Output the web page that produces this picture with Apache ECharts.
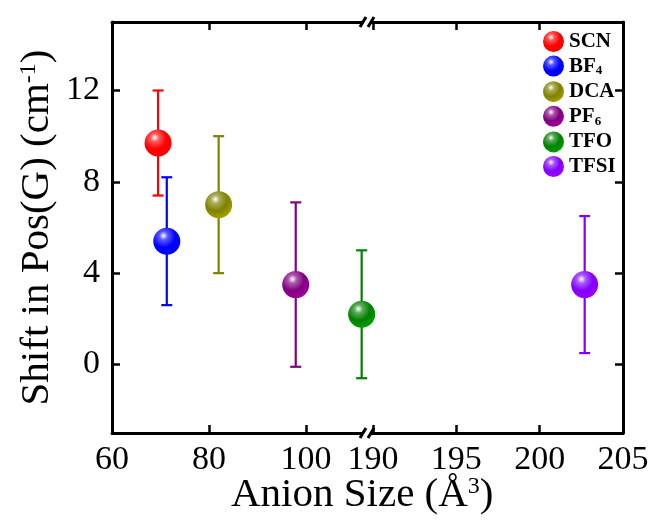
<!DOCTYPE html>
<html><head><meta charset="utf-8">
<script src="https://cdn.jsdelivr.net/npm/echarts@6/dist/echarts.min.js"></script>
<style>html,body{margin:0;padding:0;background:#fff}#c{width:654px;height:525px}</style>
</head><body><div id="c"></div><script>
// ---- data ----
const anions = ['SCN', 'BF4', 'DCA', 'PF6', 'TFO', 'TFSI'];
const anionSize = [69.5, 71.3, 82.0, 97.9, 111.5, 202.7];
const shiftPosG = [9.7, 5.4, 7.0, 3.5, 2.2, 3.5];
const errLow = [7.4, 2.6, 4.0, -0.1, -0.6, 0.5];
const errHigh = [12.0, 8.2, 10.0, 7.1, 5.0, 6.5];
const xTicksLeft = [60, 80, 100];
const xTicksRight = [190, 195, 200, 205];
const yTicks = [0, 4, 8, 12];
const xRangeLeft = [60, 112.6];
const xRangeRight = [189.64, 205];
const yRange = [-3, 15];
const breakAt = 150;
// ---- styles ----
const colors = ['#ff0000', '#0000ff', '#808000', '#800080', '#008000', '#8000ff'];
const FONT = 'Liberation Serif';

const chart = echarts.init(document.getElementById('c'));

function sphere(c) {
  return new echarts.graphic.RadialGradient(0.38, 0.3, 0.72, [
    { offset: 0, color: '#ffffff' },
    { offset: 0.22, color: echarts.color.lift(c, 0.35) },
    { offset: 0.6, color: c },
    { offset: 1, color: echarts.color.lift(c, -0.25) }
  ]);
}

const axisLineStyle = { color: '#000', width: 3 };
function xAxisDef(gridIndex, range, ticks, pos, showLabel) {
  return {
    type: 'value', gridIndex, position: pos, min: range[0], max: range[1],
    axisLine: { show: true, onZero: false, lineStyle: axisLineStyle },
    axisTick: { show: true, inside: true, length: 8, lineStyle: { width: 2.5, color: '#000' }, customValues: ticks },
    axisLabel: { show: showLabel, customValues: ticks, fontFamily: FONT, fontSize: 34, color: '#000', margin: 10 },
    splitLine: { show: false }
  };
}
function yAxisDef(gridIndex, pos, showLabel) {
  return {
    type: 'value', gridIndex, position: pos, min: yRange[0], max: yRange[1],
    axisLine: { show: true, onZero: false, lineStyle: axisLineStyle },
    axisTick: { show: true, inside: true, length: 8, lineStyle: { width: 2.5, color: '#000' }, customValues: yTicks },
    axisLabel: { show: showLabel, customValues: yTicks, fontFamily: FONT, fontSize: 34, color: '#000', margin: 12 },
    splitLine: { show: false },
    name: showLabel ? 'Shift in Pos(G) (cm{sup|-1})' : '',
    nameLocation: 'middle', nameRotate: 90, nameGap: 54,
    nameTextStyle: {
      fontFamily: FONT, fontSize: 41, color: '#000',
      rich: { sup: { fontFamily: FONT, fontSize: 24, color: '#000', verticalAlign: 'top', padding: [0, 0, 16, 0] } }
    }
  };
}

const series = [];
anions.forEach((name, i) => {
  const axisIdx = anionSize[i] > breakAt ? 1 : 0;
  series.push({
    type: 'custom', name: name + '_err', xAxisIndex: axisIdx, yAxisIndex: axisIdx, z: 2,
    data: [[anionSize[i], errLow[i], errHigh[i]]],
    encode: { x: 0, y: [1, 2] },
    renderItem: (params, api) => {
      const x = api.value(0);
      const top = api.coord([x, api.value(2)]);
      const bot = api.coord([x, api.value(1)]);
      const hw = 5.5;
      const st = { stroke: colors[i], lineWidth: 2.2 };
      return { type: 'group', children: [
        { type: 'line', shape: { x1: top[0], y1: top[1], x2: bot[0], y2: bot[1] }, style: st },
        { type: 'line', shape: { x1: top[0] - hw, y1: top[1], x2: top[0] + hw, y2: top[1] }, style: st },
        { type: 'line', shape: { x1: bot[0] - hw, y1: bot[1], x2: bot[0] + hw, y2: bot[1] }, style: st }
      ]};
    }
  });
  series.push({
    type: 'scatter', name, xAxisIndex: axisIdx, yAxisIndex: axisIdx, z: 5,
    symbol: 'circle', symbolSize: 27,
    itemStyle: { color: sphere(colors[i]), opacity: 1 },
    data: [[anionSize[i], shiftPosG[i]]]
  });
});

const option = {
  animation: false,
  backgroundColor: '#fff',
  grid: [
    { left: 112, top: 22, width: 255, height: 411 },
    { left: 367, top: 22, width: 256, height: 411 }
  ],
  xAxis: [
    xAxisDef(0, xRangeLeft, xTicksLeft, 'bottom', true),
    xAxisDef(1, xRangeRight, xTicksRight, 'bottom', true),
    xAxisDef(0, xRangeLeft, xTicksLeft, 'top', false),
    xAxisDef(1, xRangeRight, xTicksRight, 'top', false)
  ],
  yAxis: [
    yAxisDef(0, 'left', true),
    yAxisDef(1, 'right', false)
  ],
  title: {
    text: 'Anion Size (Å{sup|3})', left: 226, top: 470,
    textStyle: {
      fontFamily: FONT, fontSize: 41, fontWeight: 'normal', color: '#000',
      rich: { sup: { fontFamily: FONT, fontSize: 24, color: '#000', verticalAlign: 'top', padding: [0, 0, 16, 0] } }
    }
  },
  legend: {
    data: anions, orient: 'vertical', left: 538, top: 26,
    itemWidth: 21, itemHeight: 21, itemGap: 3.6, icon: 'circle',
    formatter: n => n.replace(/(\d+)$/, '{sub|$1}'),
    textStyle: {
      fontFamily: FONT, fontSize: 21, fontWeight: 'bold', color: '#000',
      rich: { sub: { fontFamily: FONT, fontSize: 13, fontWeight: 'bold', color: '#000', verticalAlign: 'bottom', padding: [10, 0, 0, 0] } }
    }
  },
  series
};
chart.setOption(option);

// axis break marks at the junction of the two segments
const pTop = chart.convertToPixel({ gridIndex: 0 }, [xRangeLeft[1], yRange[1]]);
const pBot = chart.convertToPixel({ gridIndex: 0 }, [xRangeLeft[1], yRange[0]]);
function breakMark(p) {
  return [
    { type: 'rect', shape: { x: p[0] - 4, y: p[1] - 4, width: 8, height: 8 }, style: { fill: '#fff' }, z: 100 },
    { type: 'line', shape: { x1: p[0] - 7, y1: p[1] + 5, x2: p[0] - 1, y2: p[1] - 5 }, style: { stroke: '#000', lineWidth: 3 }, z: 101 },
    { type: 'line', shape: { x1: p[0] + 1, y1: p[1] + 5, x2: p[0] + 7, y2: p[1] - 5 }, style: { stroke: '#000', lineWidth: 3 }, z: 101 }
  ];
}
chart.setOption({ graphic: breakMark(pTop).concat(breakMark(pBot)) });
</script></body></html>
